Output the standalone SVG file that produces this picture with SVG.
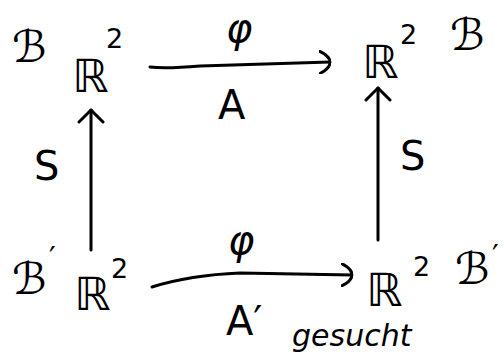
<svg xmlns="http://www.w3.org/2000/svg" width="504" height="356" viewBox="0 0 504 356">
  <style>
    .t { font-family: "DejaVu Sans", "Liberation Sans", sans-serif; fill: #000; }
    .big { font-size: 46px; }
    .sup { font-size: 27px; }
    .basis { font-size: 44px; font-style: italic; }
    .prime { font-size: 30px; }
    .lbl { font-size: 40px; }
    .note { font-size: 30px; font-style: italic; }
    .ln { fill: none; stroke: #000; stroke-width: 3; stroke-linecap: round; stroke-linejoin: round; }
  </style>
  <defs>
    <marker id="head" viewBox="0 0 12 24" refX="11" refY="12" markerWidth="12" markerHeight="24" markerUnits="userSpaceOnUse" orient="auto">
      <path d="M1,1 Q11,6 11,12 Q11,18 1,23" fill="none" stroke="#000" stroke-width="3" stroke-linecap="round"/>
    </marker>
    <marker id="chev" viewBox="0 0 16 28" refX="14" refY="14" markerWidth="16" markerHeight="28" markerUnits="userSpaceOnUse" orient="auto">
      <path d="M2,2 L14,14 L2,26" fill="none" stroke="#000" stroke-width="3" stroke-linecap="round" stroke-linejoin="round"/>
    </marker>
  </defs>

  <rect width="504" height="356" fill="#fff"/>

  <!-- corner spaces with their bases -->
  <g id="top-left">
    <text class="t basis" x="12" y="62">ℬ</text>
    <text class="t big" x="72" y="92">ℝ</text>
    <text class="t sup" x="106" y="48">2</text>
  </g>
  <g id="top-right">
    <text class="t big" x="362" y="78">ℝ</text>
    <text class="t sup" x="400" y="44">2</text>
    <text class="t basis" x="450" y="50">ℬ</text>
  </g>
  <g id="bottom-left">
    <text class="t basis" x="12" y="294">ℬ</text>
    <text class="t prime" x="49" y="268">′</text>
    <text class="t big" x="74" y="310">ℝ</text>
    <text class="t sup" x="111" y="278">2</text>
  </g>
  <g id="bottom-right">
    <text class="t big" x="366" y="306">ℝ</text>
    <text class="t sup" x="413" y="276">2</text>
    <text class="t basis" x="455" y="284">ℬ</text>
    <text class="t prime" x="492" y="266">′</text>
  </g>

  <!-- arrows -->
  <g id="connectors">
    <path class="ln" d="M150,67 Q165,69 200,66 L330,62" marker-end="url(#head)"/>
    <path class="ln" d="M91,250 L91,110" marker-end="url(#chev)"/>
    <path class="ln" d="M378,240 L378,88" marker-end="url(#chev)"/>
    <path class="ln" d="M152,287 Q190,275 240,273 L352,275" marker-end="url(#head)"/>
  </g>

  <!-- arrow labels -->
  <g id="labels">
    <text class="t lbl" x="226" y="42" font-style="italic">φ</text>
    <text class="t lbl" x="218" y="119">A</text>
    <text class="t lbl" x="34" y="180">S</text>
    <text class="t lbl" x="400" y="170">S</text>
    <text class="t lbl" x="228" y="254" font-style="italic">φ</text>
    <text class="t lbl" x="226" y="335">A′</text>
    <text class="t note" x="292" y="346">gesucht</text>
  </g>
</svg>
